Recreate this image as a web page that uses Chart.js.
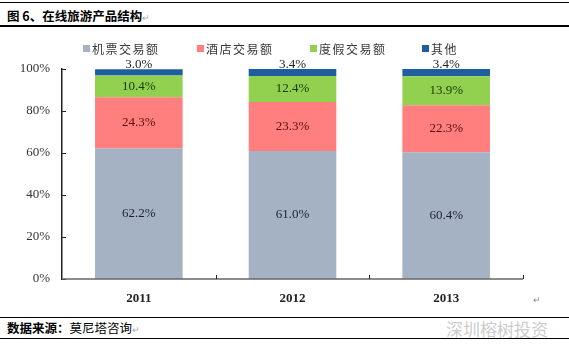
<!DOCTYPE html>
<html><head><meta charset="utf-8">
<script src="https://cdn.jsdelivr.net/npm/chart.js@4/dist/chart.umd.min.js"></script>
<style>
html,body{margin:0;padding:0;background:#fff;}
body{width:569px;height:355px;position:relative;overflow:hidden;font-family:"Noto Sans CJK SC",sans-serif;}
#wrap{position:absolute;left:0;top:30px;width:545px;height:282px;}
.hl{position:absolute;left:0;width:569px;background:#000;}
#title{position:absolute;left:7px;top:6px;font-size:12.5px;font-weight:bold;color:#000;}
#src{position:absolute;left:7px;top:318px;font-size:12.5px;color:#000;}
#wm{position:absolute;left:446px;top:316px;font-size:17px;color:#cccccc;}
.rt{color:#aaa;font-size:9px;font-weight:normal;}
</style></head>
<body>
<div class="hl" style="top:2px;height:1px"></div>
<div id="title">图 6、在线旅游产品结构<span class="rt">↵</span></div>
<div class="hl" style="top:25px;height:2px"></div>
<div id="wrap"><canvas id="c" width="545" height="282"></canvas></div>
<div style="position:absolute;left:533px;top:293px;font-size:9px;color:#888">↵</div>
<div class="hl" style="top:317px;height:1px"></div>
<div id="src"><b>数据来源：</b>莫尼塔咨询<span class="rt">↵</span></div>
<div id="wm">深圳榕树投资</div>
<div class="hl" style="top:338px;height:1px"></div>
<script>
const categories = ["2011", "2012", "2013"];
const seriesNames = ["机票交易额", "酒店交易额", "度假交易额", "其他"];
const flight = [62.2, 61.0, 60.4];
const hotel = [24.3, 23.3, 22.3];
const holiday = [10.4, 12.4, 13.9];
const other = [3.0, 3.4, 3.4];
const yTicks = [0, 20, 40, 60, 80, 100];

const colors = ["#A4B2C4", "#FF7F7F", "#92D050", "#1F5E9E"];
const labelColors = ["#1a2333", "#5a0a0a", "#153a05", "#222222"];
const seriesData = [flight, hotel, holiday, other];

const legendX = [83, 197, 310, 422];

const overlay = {
  id: 'overlay',
  afterDatasetsDraw(chart) {
    const ctx = chart.ctx;
    const xs = chart.scales.x, ys = chart.scales.y;
    const ca = chart.chartArea;
    ctx.save();
    ctx.strokeStyle = '#222'; ctx.lineWidth = 1;
    yTicks.forEach(v => {
      const y = Math.round(ys.getPixelForValue(v)) + 0.5;
      ctx.beginPath(); ctx.moveTo(ca.left, y); ctx.lineTo(ca.left + 4, y); ctx.stroke();
    });
    ctx.strokeStyle = '#666'; ctx.lineWidth = 1.5;
    ctx.beginPath(); ctx.moveTo(ca.left, ca.bottom); ctx.lineTo(ca.right, ca.bottom); ctx.stroke();
    ctx.strokeStyle = '#222'; ctx.lineWidth = 1;
    const step = (ca.right - ca.left) / categories.length;
    for (let i = 1; i <= categories.length; i++) {
      const x = Math.round(ca.left + step * i) + 0.5;
      ctx.beginPath(); ctx.moveTo(x, ca.bottom); ctx.lineTo(x, ca.bottom - 4); ctx.stroke();
    }
    ctx.font = '13px "Liberation Serif", serif';
    ctx.textAlign = 'center';
    chart.data.datasets.forEach((ds, di) => {
      const meta = chart.getDatasetMeta(di);
      meta.data.forEach((bar, i) => {
        const txt = ds.data[i].toFixed(1) + '%';
        ctx.fillStyle = labelColors[di];
        if (di === 3) {
          ctx.textBaseline = 'bottom';
          ctx.fillText(txt, bar.x, bar.y + 2);
        } else {
          ctx.textBaseline = 'middle';
          ctx.fillText(txt, bar.x, (bar.y + bar.base) / 2);
        }
      });
    });
    ctx.font = '12px "Noto Sans CJK SC", sans-serif';
    ctx.textAlign = 'left'; ctx.textBaseline = 'middle';
    if ('letterSpacing' in ctx) ctx.letterSpacing = '1.5px';
    chart.data.datasets.forEach((ds, di) => {
      const x = legendX[di], y = 19;
      ctx.fillStyle = ds.backgroundColor;
      ctx.fillRect(x, y - 4, 7, 7);
      ctx.fillStyle = '#3a3a3a';
      ctx.fillText(ds.label, x + 9, y);
    });
    ctx.restore();
  }
};

new Chart(document.getElementById('c'), {
  type: 'bar',
  data: {
    labels: categories,
    datasets: seriesNames.map((n, i) => ({
      label: n, data: seriesData[i], backgroundColor: colors[i],
      barPercentage: 0.57, categoryPercentage: 1.0, borderWidth: 0
    }))
  },
  options: {
    responsive: false, animation: false,
    layout: { padding: { top: 39, right: 22, left: 0, bottom: 0 } },
    plugins: { legend: { display: false }, tooltip: { enabled: false } },
    scales: {
      x: {
        stacked: true,
        grid: { display: false, drawTicks: false },
        border: { display: false },
        ticks: { color: '#222', font: { family: '"Liberation Serif", serif', size: 13, weight: 'bold' }, padding: 12 },
        afterFit: s => { s.height = 33; }
      },
      y: {
        stacked: true, min: 0, max: 100,
        afterBuildTicks: s => { s.ticks = yTicks.map(v => ({ value: v })); },
        grid: { display: false, drawTicks: false },
        border: { display: true, color: '#222', width: 1.5 },
        ticks: { color: '#333', font: { family: '"Liberation Serif", serif', size: 13 }, padding: 12,
                 callback: v => v + '%' },
        afterFit: s => { s.width = 62; }
      }
    }
  },
  plugins: [overlay]
});
</script>
</body></html>
